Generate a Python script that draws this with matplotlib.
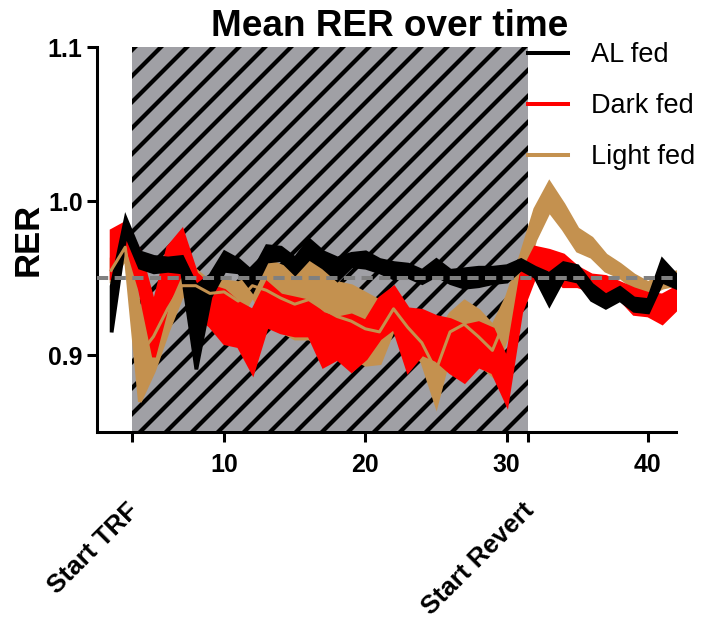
import numpy as np
import matplotlib
matplotlib.use("Agg")
import matplotlib.pyplot as plt
from matplotlib.lines import Line2D

plt.rcParams["font.family"] = ["Liberation Sans", "DejaVu Sans"]
plt.rcParams["hatch.linewidth"] = 3.9

# --- data ---
days = list(range(2, 43))

al_mean = [0.930, 0.984, 0.962, 0.959, 0.959, 0.959, 0.918, 0.945, 0.961, 0.958,
           0.948, 0.966, 0.966, 0.958, 0.969, 0.962, 0.956, 0.962, 0.962, 0.958,
           0.955, 0.955, 0.951, 0.957, 0.951, 0.950, 0.951, 0.952, 0.953, 0.959,
           0.954, 0.943, 0.955, 0.953, 0.941, 0.935, 0.940, 0.933, 0.932, 0.955,
           0.948]
al_sem = [0.015, 0.005, 0.005, 0.005, 0.004, 0.005, 0.027, 0.007, 0.006, 0.004,
          0.006, 0.005, 0.004, 0.005, 0.006, 0.005, 0.007, 0.004, 0.005, 0.004,
          0.005, 0.004, 0.004, 0.005, 0.004, 0.006, 0.006, 0.005, 0.005, 0.003,
          0.003, 0.010, 0.005, 0.005, 0.005, 0.004, 0.004, 0.004, 0.004, 0.007,
          0.004]

dark_mean = [0.965, 0.980, 0.955, 0.916, 0.952, 0.968, 0.940, 0.932, 0.925, 0.920,
             0.909, 0.933, 0.927, 0.925, 0.924, 0.910, 0.911, 0.908, 0.910, 0.924,
             0.931, 0.910, 0.915, 0.911, 0.906, 0.901, 0.907, 0.903, 0.883, 0.940,
             0.961, 0.962, 0.955, 0.951, 0.947, 0.946, 0.942, 0.935, 0.933, 0.930,
             0.937]
dark_sem = [0.016, 0.006, 0.012, 0.017, 0.018, 0.013, 0.013, 0.013, 0.017, 0.014,
            0.020, 0.014, 0.012, 0.012, 0.011, 0.017, 0.013, 0.018, 0.012, 0.013,
            0.013, 0.020, 0.014, 0.014, 0.017, 0.018, 0.014, 0.014, 0.014, 0.012,
            0.009, 0.006, 0.010, 0.006, 0.005, 0.005, 0.005, 0.008, 0.007, 0.009,
            0.007]

light_mean = [0.955, 0.970, 0.900, 0.912, 0.930, 0.945, 0.945, 0.940, 0.941, 0.935,
              0.945, 0.942, 0.937, 0.933, 0.936, 0.930, 0.925, 0.922, 0.917, 0.915,
              0.930, 0.918, 0.908, 0.890, 0.915, 0.920, 0.912, 0.903, 0.925, 0.955,
              0.985, 1.003, 0.990, 0.975, 0.970, 0.960, 0.955, 0.948, 0.943, 0.948,
              0.950]
light_sem = [0.008, 0.006, 0.030, 0.022, 0.014, 0.006, 0.010, 0.007, 0.007, 0.012,
             0.006, 0.020, 0.021, 0.022, 0.025, 0.025, 0.022, 0.023, 0.023, 0.020,
             0.012, 0.012, 0.012, 0.022, 0.012, 0.015, 0.017, 0.016, 0.013, 0.010,
             0.010, 0.009, 0.008, 0.007, 0.006, 0.005, 0.004, 0.004, 0.004, 0.004,
             0.004]

trf_start = 3.5
revert_start = 31.5
baseline = 0.95

black = "black"
red = "#FF0000"
tan = "#C4914F"

fig = plt.figure(figsize=(702 / 78, 623 / 78), dpi=78)
ax = fig.add_axes([97 / 702, 1 - 432 / 623, 579 / 702, 385 / 623])

# shaded TRF period
ax.axvspan(trf_start, revert_start, facecolor="#A0A0A5", edgecolor="black",
           hatch="/", linewidth=0, zorder=0)

x = np.array(days)
for m, s, c in [(light_mean, light_sem, tan), (dark_mean, dark_sem, red),
                (al_mean, al_sem, black)]:
    m = np.array(m)
    s = np.array(s)
    ax.fill_between(x, m - s, m + s, color=c, linewidth=3.5, edgecolor=c,
                    joinstyle="miter", zorder=2)
# light fed mean line shows through the red band
ax.plot(x[:29], light_mean[:29], color=tan, lw=2.8, zorder=3)

ax.axhline(baseline, color="#808080", lw=3.7, ls=(0, (2.8, 1.6)), zorder=5)

ax.set_xlim(1, 42)
ax.set_ylim(0.85, 1.1)
ax.set_yticks([0.9, 1.0, 1.1])
ax.set_xticks([trf_start, 10, 20, 30, revert_start, 40])
ax.set_xticklabels(["", "10", "20", "30", "", "40"])

for sp in ["top", "right"]:
    ax.spines[sp].set_visible(False)
for sp in ["left", "bottom"]:
    ax.spines[sp].set_linewidth(2.8)
ax.tick_params(width=2.8, length=9.2, labelsize=23)
ax.tick_params(axis="x", pad=10)
ax.tick_params(axis="y", pad=4)
for lab in ax.get_xticklabels() + ax.get_yticklabels():
    lab.set_fontweight("bold")

ax.set_ylabel("RER", fontsize=32, fontweight="bold")
ax.yaxis.set_label_coords(-0.09, 0.5)

trans = ax.get_xaxis_transform()
ax.text(trf_start + 0.2, -0.195, "Start TRF", transform=trans, rotation=45,
        rotation_mode="anchor", ha="right", va="center", fontsize=24,
        fontweight="bold")
ax.text(revert_start + 0.2, -0.195, "Start Revert", transform=trans, rotation=45,
        rotation_mode="anchor", ha="right", va="center", fontsize=24,
        fontweight="bold")

fig.text(390 / 702, 1 - 26 / 623, "Mean RER over time", fontsize=34,
         fontweight="bold", ha="center", va="center")

handles = [Line2D([], [], color=black, lw=3.7),
           Line2D([], [], color=red, lw=3.7),
           Line2D([], [], color=tan, lw=3.7)]
fig.legend(handles, ["AL fed", "Dark fed", "Light fed"], loc="upper left",
           bbox_to_anchor=(528 / 702, 1 - 42 / 623), frameon=False, fontsize=25,
           handlelength=1.48, handletextpad=0.85, labelspacing=0.93,
           borderpad=0, borderaxespad=0)

fig.savefig("out.png", dpi=78)
